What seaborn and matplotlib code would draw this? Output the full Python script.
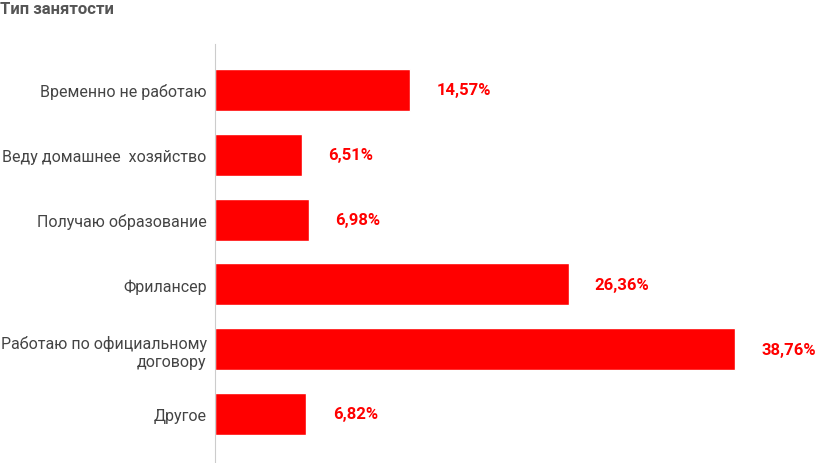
import matplotlib
matplotlib.use("Agg")
import matplotlib.pyplot as plt
import seaborn as sns
import pandas as pd

categories = ["Временно не работаю", "Веду домашнее  хозяйство", "Получаю образование",
              "Фрилансер", "Работаю по официальному\nдоговору", "Другое"]
values = [14.57, 6.51, 6.98, 26.36, 38.76, 6.82]
labels = ["14,57%", "6,51%", "6,98%", "26,36%", "38,76%", "6,82%"]

df = pd.DataFrame({"cat": categories, "val": values})

sns.set_style("white")
plt.rcParams["font.family"] = ["Roboto", "DejaVu Sans"]

fig = plt.figure(figsize=(8.2, 4.64), dpi=100)
ax = fig.add_axes([215 / 820, 0, 1 - 215 / 820, 1 - 45 / 464])
sns.barplot(data=df, x="val", y="cat", color="#ff0000", saturation=1, width=0.65, ax=ax)

for i, (v, t) in enumerate(zip(values, labels)):
    ax.text(v + 1.95, i, t, va="center", ha="left", color="#ff0000",
            fontsize=12, fontweight="bold")

ax.set_xlim(0, 45.1)
ax.set_ylim(5 + 49 / 64.8, -46 / 64.8)
ax.set_xlabel("")
ax.set_ylabel("")
ax.set_xticks([])
ax.tick_params(axis="y", length=0, pad=6, labelsize=11.5, labelcolor="#444444")
for lbl in ax.get_yticklabels():
    lbl.set_horizontalalignment("right")
for s in ["top", "right", "bottom"]:
    ax.spines[s].set_visible(False)
ax.spines["left"].set_color("#cccccc")

fig.text(0.0, 1 - 9 / 464, "Тип занятости", ha="left", va="center",
         fontsize=12, fontweight="bold", color="#555555")

fig.savefig("out.png", dpi=100)
